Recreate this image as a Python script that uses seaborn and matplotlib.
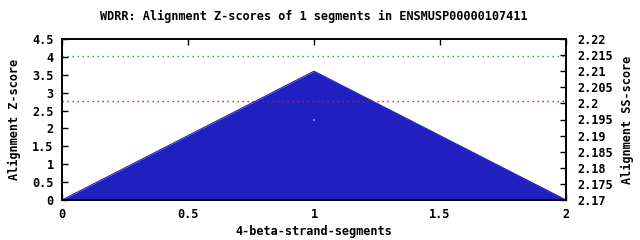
import matplotlib
matplotlib.use("Agg")
import matplotlib.pyplot as plt
import seaborn as sns
import pandas as pd

segments_x = [0.0, 1.0, 2.0]
zscores = [0.0, 3.6, 0.0]
ss_x = [1.0]
ss_scores = [2.195]
green_level = 4.03
red_level = 2.78
title = "WDRR: Alignment Z-scores of 1 segments in ENSMUSP00000107411"
x_ticks = [0, 0.5, 1, 1.5, 2]
x_ticklabels = ["0", "0.5", "1", "1.5", "2"]
left_ticks = [0, 0.5, 1, 1.5, 2, 2.5, 3, 3.5, 4, 4.5]
left_ticklabels = ["0", "0.5", "1", "1.5", "2", "2.5", "3", "3.5", "4", "4.5"]
right_ticks = [2.17, 2.175, 2.18, 2.185, 2.19, 2.195, 2.2, 2.205, 2.21, 2.215, 2.22]
right_ticklabels = ["2.17", "2.175", "2.18", "2.185", "2.19", "2.195", "2.2", "2.205", "2.21", "2.215", "2.22"]

sns.set_style("white")
plt.rcParams['font.family'] = ['DejaVu Sans Mono']
plt.rcParams['font.weight'] = 'bold'
plt.rcParams['text.color'] = 'black'
plt.rcParams['axes.labelcolor'] = 'black'
plt.rcParams['xtick.color'] = 'black'
plt.rcParams['ytick.color'] = 'black'
fs = 8.6

df = pd.DataFrame({"x": segments_x, "z": zscores})

fig = plt.figure(figsize=(6.4, 2.4), dpi=100)
ax = fig.add_axes([62/640, 40/240, (566-62)/640, (200-39)/240])
color = "#2020c0"
ax.fill_between(df["x"], 0, df["z"], color=color, linewidth=0, zorder=1)
sns.lineplot(data=df, x="x", y="z", ax=ax, color=color, linewidth=0.8, zorder=2)
ax.axhline(green_level, color="#00b000", linestyle=(0, (1, 2.6)), linewidth=1.0, zorder=3)
ax.axhline(red_level, color="#ff0000", linestyle=(0, (1, 2.6)), linewidth=1.0, zorder=3)
ax.set_xlim(0, 2)
ax.set_ylim(0, 4.5)
ax.set_xticks(x_ticks)
ax.set_xticklabels(x_ticklabels, fontsize=fs, fontweight='bold', color='black')
ax.set_yticks(left_ticks)
ax.set_yticklabels(left_ticklabels, fontsize=fs, fontweight='bold', color='black')
ax.set_xlabel("4-beta-strand-segments", fontsize=fs, fontweight='bold', labelpad=3, color='black')
ax.set_ylabel("Alignment Z-score", fontsize=fs, fontweight='bold', labelpad=8, color='black')
ax.set_title(title, fontsize=fs, fontweight='bold', pad=14, color='black')
ax.tick_params(axis='x', direction='in', length=4, width=1, top=True, bottom=True, pad=6, colors='black')
ax.tick_params(axis='y', direction='in', length=4, width=1, left=True, right=False, pad=6, colors='black')
for s in ax.spines.values():
    s.set_color('black')
    s.set_linewidth(1.2)

ax2 = ax.twinx()
sns.scatterplot(x=ss_x, y=ss_scores, ax=ax2, color="#40a0ff", s=3, linewidth=0, marker='s', zorder=4)
ax2.set_ylim(2.17, 2.22)
ax2.set_yticks(right_ticks)
ax2.set_yticklabels(right_ticklabels, fontsize=fs, fontweight='bold', color='black')
ax2.set_ylabel("Alignment SS-score", fontsize=fs, fontweight='bold', labelpad=6, color='black')
ax2.tick_params(direction='in', length=4, width=1, right=True, pad=8, colors='black')
for s in ax2.spines.values():
    s.set_color('black')
    s.set_linewidth(1.2)

fig.savefig("out.png", dpi=100)
